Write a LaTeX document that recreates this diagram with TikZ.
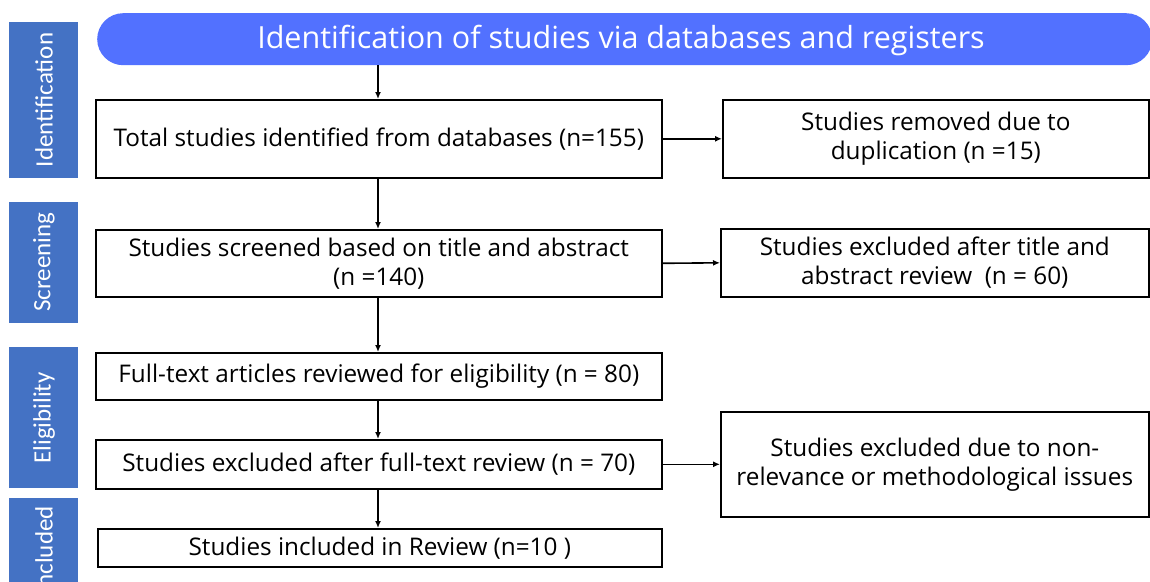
\documentclass[tikz,border=0pt]{standalone}
\usepackage{fontspec}
\setmainfont{Open Sans}
\newfontfamily\sidefont{Carlito}
\usetikzlibrary{arrows.meta,positioning}
\definecolor{sideblue}{HTML}{4472C4}
\definecolor{bannerblue}{HTML}{5271FF}
\tikzset{
  flowbox/.style={draw=black, line width=1.6pt, fill=white, inner sep=0pt, align=center, font=\fontsize{24.3}{29}\selectfont},
  sidebar/.style={fill=sideblue, draw=none},
  sidetext/.style={text=white, rotate=90, font=\sidefont\fontsize{25}{27}\selectfont},
  conn/.style={line width=1.6pt, -{Latex[length=7pt,width=6pt]}},
}
\begin{document}
\begin{tikzpicture}[x=1pt,y=-1pt]
\useasboundingbox (0,0) rectangle (1150,581);
\fill[white] (0,0) rectangle (1150,581);
% side bars
\fill[sidebar] (9,22) rectangle (78,178);
\node[sidetext] (sid) at (44,100) {Identification};
\fill[sidebar] (9,202) rectangle (78,323);
\node[sidetext] (sscr) at (44,262) {Screening};
\fill[sidebar] (9,347) rectangle (78,488);
\node[sidetext] (sel) at (44,418) {Eligibility};
\begin{scope}
\clip (0,0) rectangle (1150,581);
\fill[sidebar] (9,498) rectangle (78,640);
\node[sidetext] (sinc) at (44,550) {Included};
\end{scope}
% banner
\begin{scope}
\clip (0,0) rectangle (1150,581);
\node[fill=bannerblue, rounded corners=26pt, minimum width=1055pt, minimum height=52pt, inner sep=0pt, anchor=north west] (ban) at (97,13) {};
\end{scope}
\node[text=white, font=\fontsize{30.5}{32}\selectfont] (bantext) at (621,40) {Identification of studies via databases and registers};
\coordinate (banbot) at (378,65);
% left column
\node[flowbox, minimum width=566pt, minimum height=78pt, anchor=north west] (b1) at (95,99) {Total studies identified from databases (n=155)};
\node[flowbox, minimum width=566pt, minimum height=67pt, anchor=north west] (b2) at (95,229) {Studies screened based on title and abstract\\(n =140)};
\node[flowbox, minimum width=566pt, minimum height=47pt, anchor=north west] (b3) at (95,352) {Full-text articles reviewed for eligibility (n = 80)};
\node[flowbox, minimum width=566pt, minimum height=49pt, anchor=north west] (b4) at (95,439) {Studies excluded after full-text review (n = 70)};
\node[flowbox, minimum width=564pt, minimum height=38pt, anchor=north west] (b5) at (97,528) {Studies included in Review (n=10 )};
% right column
\node[flowbox, minimum width=426pt, minimum height=78pt, anchor=north west] (r1) at (722,99) {Studies removed due to\\duplication (n =15)};
\node[flowbox, minimum width=428pt, minimum height=68pt, anchor=north west] (r2) at (720,228) {Studies excluded after title and\\abstract review~~(n = 60)};
\node[flowbox, minimum width=428pt, minimum height=105pt, anchor=north west] (r3) at (720,411) {Studies excluded due to non-\\relevance or methodological issues};
% connectors
\draw[conn] (banbot) -- (b1.north -| banbot);
\draw[conn] (b1.south -| banbot) -- (b2.north -| banbot);
\draw[conn] (b2.south -| banbot) -- (b3.north -| banbot);
\draw[conn] (b3.south -| banbot) -- (b4.north -| banbot);
\draw[conn] (b4.south -| banbot) -- (b5.north -| banbot);
\draw[conn] (b1.east) -- (r1.west);
\draw[conn] (b2.east) -- (r2.west);
\draw[conn] (b4.east) -- (b4.east -| r3.west);
\end{tikzpicture}
\end{document}
